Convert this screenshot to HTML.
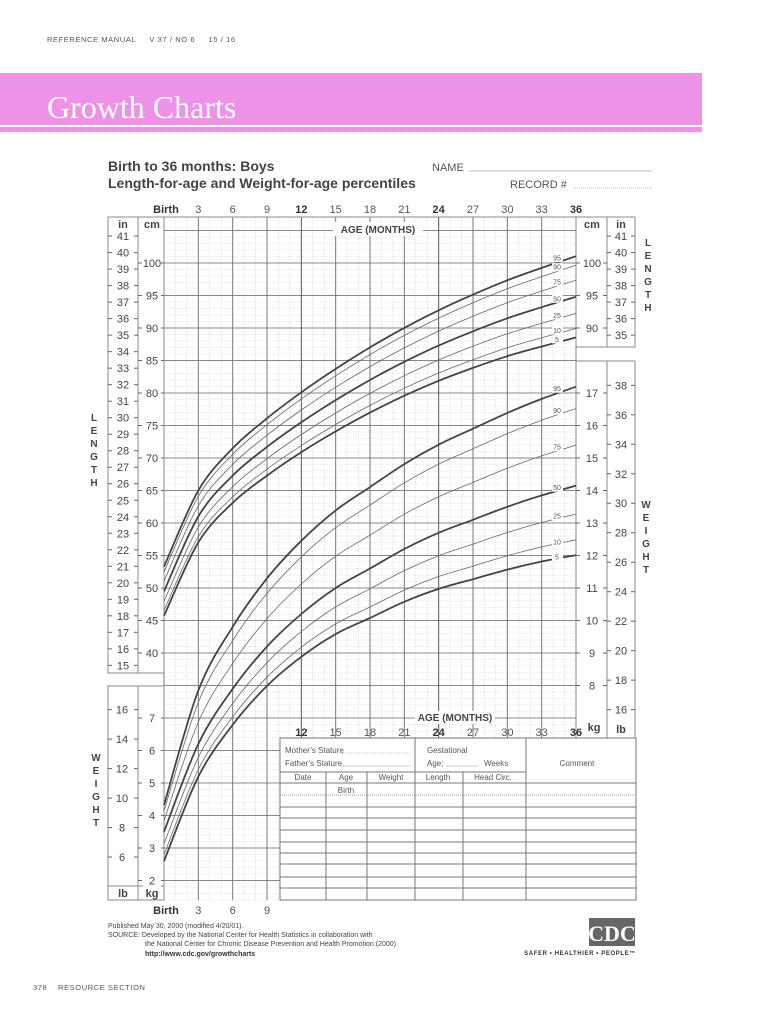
<!DOCTYPE html>
<html><head><meta charset="utf-8"><style>
html,body{margin:0;padding:0;background:#fff;}
svg{display:block;font-family:"Liberation Sans",sans-serif;}
</style></head><body>
<svg id="s" width="770" height="1024" viewBox="0 0 770 1024" xmlns="http://www.w3.org/2000/svg"></svg>
<script>
const X=m=>164+m*412/36;
const YC=c=>263+(100-c)*6.5;
const YK=k=>393+(17-k)*32.5;
let o='';
const L=(x1,y1,x2,y2,c,w,extra)=>{o+=`<line x1="${x1}" y1="${y1}" x2="${x2}" y2="${y2}" stroke="${c}" stroke-width="${w}" ${extra||''}/>`;};
const T=(x,y,t,sz,opt)=>{opt=opt||{};o+=`<text x="${x}" y="${y}" font-size="${sz}" fill="${opt.fill||'#444'}" text-anchor="${opt.a||'middle'}" ${opt.b?'font-weight="bold"':''} ${opt.ff?`font-family="${opt.ff}"`:''} ${opt.ls?`letter-spacing="${opt.ls}"`:''}>${t}</text>`;};
const R=(x,y,w,h,f,s,sw)=>{o+=`<rect x="${x}" y="${y}" width="${w}" height="${h}" fill="${f}" ${s?`stroke="${s}" stroke-width="${sw||1}"`:''}/>`;};

// header
T(47,42,'REFERENCE MANUAL &#160;&#160;&#160; V 37 / NO 6 &#160;&#160;&#160; 15 / 16',7.5,{a:'start',fill:'#555',ls:'0.6'});
R(0,73,702,52,'#ee92e8');
R(0,127,702,5,'#ee92e8');
L(0,133,702,133,'#ccc',1,'stroke-dasharray="1,1"');
T(47,118,'Growth Charts',32,{a:'start',fill:'#fff',ff:'Liberation Serif'});

T(108,171,'Birth to 36 months: Boys',14,{a:'start',b:1});
T(108,188,'Length-for-age and Weight-for-age percentiles',14,{a:'start',b:1});
T(432,171,'NAME',11,{a:'start',fill:'#555'});
L(469,171,652,171,'#bbb',1);
T(510,188,'RECORD #',11,{a:'start',fill:'#555'});
L(573,188,652,188,'#bbb',1,'stroke-dasharray="1,1"');

const ages=['Birth',3,6,9,12,15,18,21,24,27,30,33,36];
ages.forEach((a,i)=>{const b=(a=='Birth'||a%12==0); T(i==0?166:X(i*3),213,a,11,{b:b,fill:b?'#333':'#555'});});

for(let m=0;m<=36;m++){ if(m%3) L(X(m),217,X(m),900,'#d8d8d8',0.6,'stroke-dasharray="2,1"'); }
for(let y=230.5;y<=900;y+=6.5){ L(164,y,576,y,'#dcdcdc',0.6,'stroke-dasharray="2,1"'); }
for(let y=230.5;y<=881;y+=32.5){ L(164,y,576,y,'#888',1); }
for(let m=0;m<=36;m+=3){ L(X(m),217,X(m),900,m%12==0&&m>0?'#555':'#777',1); }

R(108,217,30,456,'none','#888',1); R(138,217,26,456,'none','#888',1);
R(108,686,30,214,'none','#888',1); R(138,686,26,214,'none','#888',1);
L(108,886,164,886,'#888',1);
R(576,217,31,130,'none','#888',1); R(607,217,28,130,'none','#888',1);
R(576,361,31,377,'none','#888',1); R(607,361,28,377,'none','#888',1);
L(576,217,576,900,'#888',1);
T(123,228,'in',11,{b:1}); T(152,228,'cm',11,{b:1});
T(592,228,'cm',11,{b:1}); T(621,228,'in',11,{b:1});
L(108,217,164,217,'#888',1);L(576,217,635,217,'#888',1);
L(164,217,576,217,'#888',1);

function lab(x,y,t,x1,x2){ L(x1,y,x1+4,y,'#666',1); L(x2-4,y,x2,y,'#666',1); o+=`<rect x="${x-9}" y="${y-6}" width="18" height="12" fill="#fff"/>`; T(x,y+4,t,11);}
for(let v=15;v<=41;v++){ lab(123,YC(v*2.54),v,108,138); }
for(let c=40;c<=100;c+=5){ lab(152,YC(c),c,138,164); }
for(let v=35;v<=41;v++){ lab(621,YC(v*2.54),v,607,635); }
for(let c=90;c<=100;c+=5){ lab(592,YC(c),c,576,607); }
for(let k=8;k<=17;k++){ lab(592,YK(k),k,576,607); }
for(let lb=16;lb<=38;lb+=2){ lab(621,YK(lb/2.20462),lb,607,635); }
for(let lb=6;lb<=16;lb+=2){ lab(122,YK(lb/2.20462),lb,108,138); }
for(let k=2;k<=7;k++){ lab(152,YK(k),k,138,164); }
T(621,733,'lb',11,{b:1}); T(594,731,'kg',11,{b:1});
T(123,897,'lb',11,{b:1}); T(152,897,'kg',11,{b:1});

R(333,222,90,14,'#fff'); T(378,233,'AGE (MONTHS)',10,{b:1});
R(415,711,80,13,'#fff'); T(455,721,'AGE (MONTHS)',10,{b:1});
[12,15,18,21,24,27,30,33,36].forEach(m=>{const b=m%12==0; T(X(m),736,m,11,{b:b,fill:b?'#333':'#555'});});

const vert=(x,y0,str)=>{[...str].forEach((c,i)=>T(x,y0+i*13,c,10,{b:1}));};
vert(648,246,'LENGTH'); vert(94,421,'LENGTH'); vert(646,508,'WEIGHT'); vert(96,761,'WEIGHT');

function cr(pts){let d=`M${pts[0][0].toFixed(1)},${pts[0][1].toFixed(1)}`;for(let i=0;i<pts.length-1;i++){const p0=pts[Math.max(i-1,0)],p1=pts[i],p2=pts[i+1],p3=pts[Math.min(i+2,pts.length-1)];const c1=[p1[0]+(p2[0]-p0[0])/6,p1[1]+(p2[1]-p0[1])/6],c2=[p2[0]-(p3[0]-p1[0])/6,p2[1]-(p3[1]-p1[1])/6];d+=`C${c1[0].toFixed(1)},${c1[1].toFixed(1)} ${c2[0].toFixed(1)},${c2[1].toFixed(1)} ${p2[0].toFixed(1)},${p2[1].toFixed(1)}`;}return d;}
const Lm=[49.5,61.0,67.3,71.7,75.5,78.9,82.0,84.8,87.3,89.5,91.5,93.2,94.8];
const Wm=[3.5,6.2,7.9,9.2,10.2,11.0,11.6,12.2,12.7,13.1,13.5,13.85,14.15];
const P=[[95,1.645],[90,1.2816],[75,0.674],[50,0],[25,-0.674],[10,-1.2816],[5,-1.645]];
let labs='';
P.forEach(([p,z])=>{
 const thick=(p==5||p==50||p==95);
 const lp=Lm.map((v,i)=>{const t=i*3;return [X(t),YC(v+z*(2.3+1.5*t/36))];});
 const wp=Wm.map((v,i)=>{const t=i*3;const s=z>0?0.5+1.35*Math.pow(t/36,0.4):0.55+0.75*t/36;return [X(t),YK(v+z*s)];});
 o+=`<path d="${cr(lp)}" fill="none" stroke="${thick?'#444':'#666'}" stroke-width="${thick?1.8:0.8}"/>`;
 o+=`<path d="${cr(wp)}" fill="none" stroke="${thick?'#444':'#666'}" stroke-width="${thick?1.8:0.8}"/>`;
 [lp,wp].forEach(a=>{const y=a[12][1]+2;labs+=`<rect x="552" y="${y-4}" width="11" height="8" fill="#fff"/><text x="557" y="${y+2.5}" font-size="7" fill="#555" text-anchor="middle">${p}</text>`;});
});
o+=labs;

R(280,738,356,162,'#fff','#777',1);
L(280,772,526,772,'#777',1); L(280,783,636,783,'#777',1);
L(280,795,636,795,'#999',1,'stroke-dasharray="1,1"');
[807,818,830,842,853,864,877,888].forEach(y=>L(280,y,636,y,'#777',1));
L(415,738,415,900,'#777',1); L(526,738,526,900,'#777',1);
[326,367,463].forEach(x=>L(x,772,x,900,'#777',1));
T(285,753,'Mother’s Stature',8,{a:'start',fill:'#555'}); L(341,753,411,753,'#999',0.6,'stroke-dasharray="1,1"');
T(285,766,'Father’s Stature',8,{a:'start',fill:'#555'}); L(339,766,411,766,'#999',0.6);
T(427,753,'Gestational',8,{a:'start',fill:'#555'});
T(427,766,'Age:',8,{a:'start',fill:'#555'}); L(446,766,478,766,'#999',0.6); T(484,766,'Weeks',8,{a:'start',fill:'#555'});
T(577,766,'Comment',8,{fill:'#555'});
T(303,780,'Date',8,{fill:'#555'}); T(346,780,'Age',8,{fill:'#555'}); T(391,780,'Weight',8,{fill:'#555'});
T(438,780,'Length',8,{fill:'#555'}); T(493,780,'Head  Circ.',8,{fill:'#555'});
T(346,793,'Birth',8,{fill:'#555'});

['Birth',3,6,9].forEach((a,i)=>T(i==0?166:X(i*3),914,a,11,{b:i==0,fill:i==0?'#333':'#555'}));

T(108,928,'Published May 30, 2000 (modified 4/20/01).',7,{a:'start',fill:'#444'});
T(108,937,'SOURCE: Developed by the National Center for Health Statistics in collaboration with',7,{a:'start',fill:'#444'});
T(145,946,'the National Center for Chronic Disease Prevention and Health Promotion (2000).',7,{a:'start',fill:'#444'});
T(145,956,'http://www.cdc.gov/growthcharts',7,{a:'start',fill:'#333',b:1});
R(589,918,46,28,'#666');
T(612,941,'CDC',22,{fill:'#fff',b:1,ff:'Liberation Serif'});
T(580,955,'SAFER • HEALTHIER • PEOPLE™',6,{b:1,fill:'#333',ls:'0.6'});
T(33,990,'378 &#160;&#160; RESOURCE SECTION',7.5,{a:'start',fill:'#555',ls:'0.6'});

document.getElementById('s').innerHTML=o;
</script>
</body></html>
